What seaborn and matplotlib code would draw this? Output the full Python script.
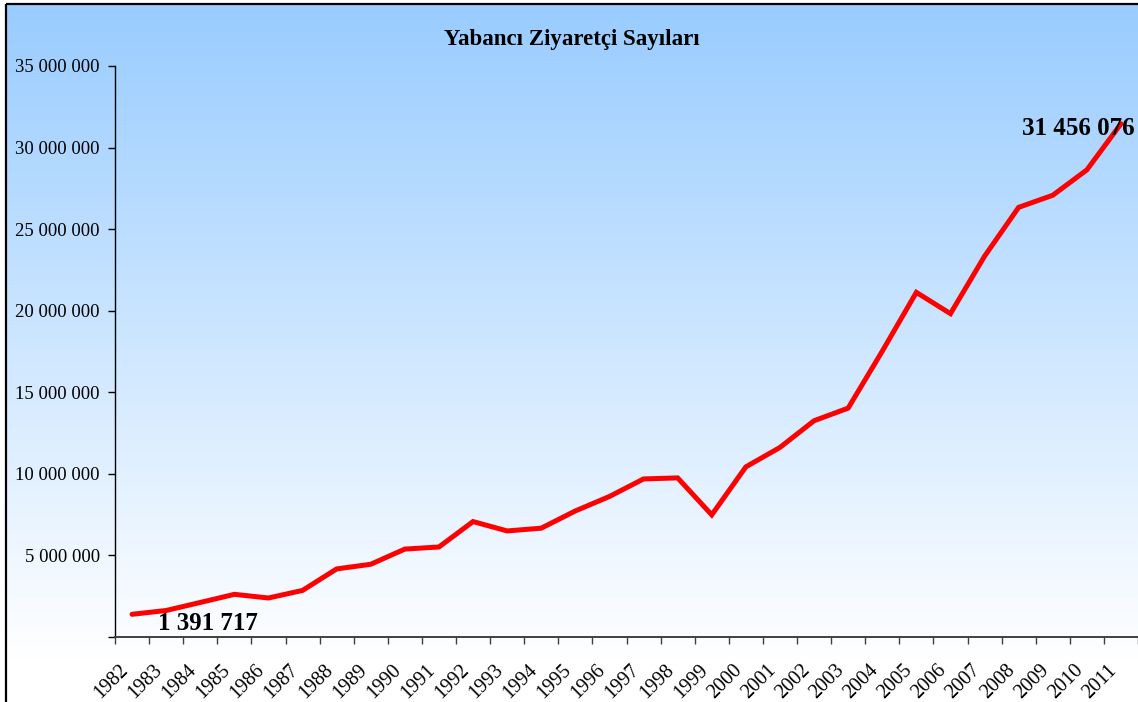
import numpy as np
import pandas as pd
import seaborn as sns
import matplotlib.pyplot as plt
from matplotlib.ticker import FuncFormatter, FixedLocator

# Data
years = [str(y) for y in range(1982, 2012)]
visitors = [
    1391717, 1625186, 2117094, 2614924, 2391085, 2855546, 4172746, 4459151,
    5389308, 5517897, 7076096, 6500638, 6670618, 7726886, 8614085, 9689004,
    9752697, 7487285, 10428153, 11619909, 13256028, 14029558, 17516908,
    21124886, 19819833, 23340911, 26336677, 27077114, 28632204, 31456076,
]
title = "Yabancı Ziyaretçi Sayıları"

W, H = 1138, 702


def spaced(v):
    return f"{int(v):,}".replace(",", " ")


def main():
    sns.set_style("ticks")
    plt.rcParams["font.family"] = ["Liberation Serif", "DejaVu Serif"]
    plt.rcParams["text.color"] = "black"

    fig = plt.figure(figsize=(W / 100, H / 100), dpi=100, facecolor="white")

    # background gradient + border (pixel coordinates)
    bg = fig.add_axes([0, 0, 1, 1], zorder=-1)
    bg.set_xlim(0, W)
    bg.set_ylim(H, 0)
    bg.axis("off")
    top = np.array([153, 204, 255]) / 255
    bot = np.array([255, 255, 255]) / 255
    t = np.linspace(0, 1, 256)[:, None]
    grad = (top * (1 - t) + bot * t)[:, None, :]
    bg.imshow(grad, extent=(6, W + 5, 660, 4), aspect="auto", interpolation="bilinear")
    bg.plot([6, 6], [H + 5, 4], color="black", lw=1.6, solid_capstyle="butt")
    bg.plot([6, W + 5], [4, 4], color="black", lw=1.6, solid_capstyle="butt")
    bg.set_xlim(0, W)
    bg.set_ylim(H, 0)

    ax = fig.add_axes([115 / W, (H - 637) / H, 1 - 115 / W, (637 - 66) / H])
    ax.set_facecolor("none")

    df = pd.DataFrame({"Yil": years, "Ziyaretci": visitors})
    sns.lineplot(data=df, x="Yil", y="Ziyaretci", ax=ax, color="#ff0000",
                 linewidth=3.6, solid_joinstyle="miter")

    ax.set_xlim(-0.5, len(years) - 0.5)
    ax.set_ylim(0, 35_000_000)
    ax.set_yticks(np.arange(0, 35_000_001, 5_000_000))
    ax.yaxis.set_major_formatter(FuncFormatter(lambda v, p: "" if v == 0 else spaced(v)))
    ax.tick_params(axis="y", direction="out", length=5, width=1, pad=6,
                   labelsize=13.5, colors="black")

    ax.set_xticks(range(len(years)))
    ax.set_xticklabels(years, rotation=45, ha="right", va="top")
    ax.xaxis.set_minor_locator(FixedLocator(np.arange(-0.5, len(years), 1.0)))
    ax.tick_params(axis="x", which="major", length=0, pad=17, labelsize=14.5, colors="black")
    ax.tick_params(axis="x", which="minor", direction="out", length=5, width=1, color="#404040")

    ax.set_xlabel("")
    ax.set_ylabel("")
    sns.despine(ax=ax)
    ax.spines["left"].set_color("black")
    ax.spines["bottom"].set_color("#404040")
    ax.spines["left"].set_linewidth(1)
    ax.spines["bottom"].set_linewidth(1.4)

    # value labels on first and last points
    ax.annotate(spaced(visitors[0]), xy=(0, visitors[0]), xytext=(19, -11),
                textcoords="offset points", ha="left", va="baseline", color="black",
                fontsize=18, fontweight="bold", annotation_clip=False)
    ax.annotate(spaced(visitors[-1]), xy=(len(years) - 1, visitors[-1]), xytext=(10, -8),
                textcoords="offset points", ha="right", va="baseline", color="black",
                fontsize=18, fontweight="bold", annotation_clip=False)

    fig.text(572 / W, 1 - 40 / H, title, ha="center", va="center", color="black",
             fontsize=16.5, fontweight="bold")

    fig.savefig("out.png", dpi=100, facecolor="white")


if __name__ == "__main__":
    main()
